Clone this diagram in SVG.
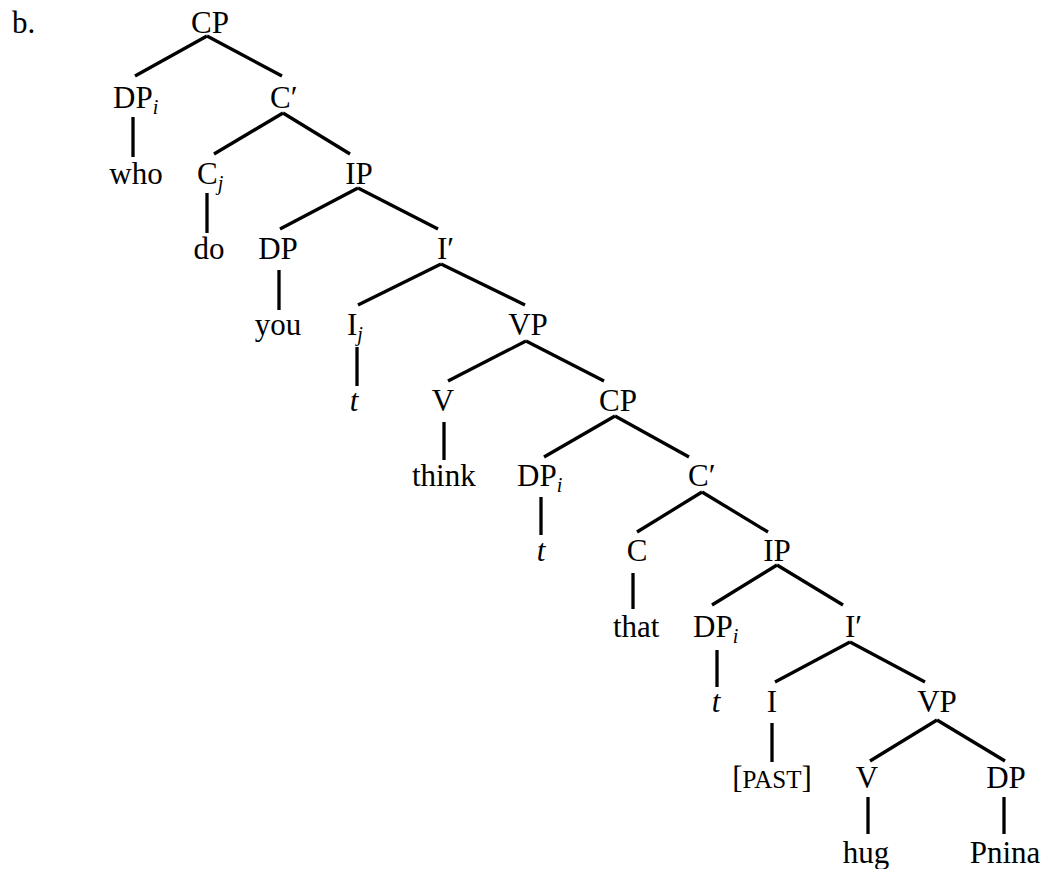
<svg xmlns="http://www.w3.org/2000/svg" width="1046" height="869" viewBox="0 0 1046 869">
<style>
text{font-family:"Liberation Serif","Times New Roman",serif;font-size:31px;fill:#000}
.m{text-anchor:middle}
.it{font-style:italic}
.sub{font-style:italic;font-size:20px}
.sc{font-size:25px}
#edges line{stroke:#000;stroke-width:3.3;stroke-linecap:butt}
</style>
<rect width="1046" height="869" fill="#fff"/>
<text x="12" y="33">b.</text>
<g id="edges">
<line x1="207" y1="36" x2="135" y2="76"/>
<line x1="207" y1="36" x2="282" y2="76"/>
<line x1="133" y1="117" x2="133" y2="157"/>
<line x1="283" y1="113" x2="214" y2="154"/>
<line x1="283" y1="113" x2="350" y2="154"/>
<line x1="207" y1="193" x2="207" y2="233"/>
<line x1="358" y1="188" x2="280" y2="229"/>
<line x1="358" y1="188" x2="438" y2="229"/>
<line x1="279" y1="270" x2="279" y2="310"/>
<line x1="441" y1="264" x2="358" y2="305"/>
<line x1="441" y1="264" x2="525" y2="305"/>
<line x1="357" y1="347" x2="357" y2="386"/>
<line x1="526" y1="341" x2="448" y2="381"/>
<line x1="526" y1="341" x2="604" y2="381"/>
<line x1="444" y1="422" x2="444" y2="460"/>
<line x1="615" y1="416" x2="544" y2="457"/>
<line x1="615" y1="416" x2="689" y2="457"/>
<line x1="541" y1="497" x2="541" y2="535"/>
<line x1="702" y1="492" x2="637" y2="532"/>
<line x1="702" y1="492" x2="768" y2="532"/>
<line x1="633" y1="573" x2="633" y2="609"/>
<line x1="777" y1="565" x2="712" y2="605"/>
<line x1="777" y1="565" x2="843" y2="605"/>
<line x1="717" y1="650" x2="717" y2="687"/>
<line x1="850" y1="642" x2="775" y2="682"/>
<line x1="850" y1="642" x2="925" y2="682"/>
<line x1="772" y1="723" x2="772" y2="762"/>
<line x1="937" y1="720" x2="870" y2="761"/>
<line x1="937" y1="720" x2="1005" y2="761"/>
<line x1="868" y1="797" x2="868" y2="834"/>
<line x1="1004" y1="797" x2="1004" y2="834"/>
</g>
<g id="n-cp1"><text class="m" x="210" y="33">CP</text></g>
<g id="n-dpi1"><text x="113" y="108">DP<tspan class="sub" dy="6">i</tspan></text></g>
<g id="n-cbar1"><text x="270" y="108">C′</text></g>
<g id="n-who"><text class="m" x="136" y="184">who</text></g>
<g id="n-cj"><text x="197" y="184">C<tspan class="sub" dy="6">j</tspan></text></g>
<g id="n-ip1"><text class="m" x="359" y="184">IP</text></g>
<g id="n-do"><text class="m" x="209" y="259">do</text></g>
<g id="n-dp1"><text class="m" x="278" y="259">DP</text></g>
<g id="n-ibar1"><text x="437" y="259">I′</text></g>
<g id="n-you"><text class="m" x="278" y="335">you</text></g>
<g id="n-ij"><text x="347" y="335">I<tspan class="sub" dy="6">j</tspan></text></g>
<g id="n-vp1"><text class="m" x="528" y="335">VP</text></g>
<g id="n-t1"><text class="m it" x="354" y="411">t</text></g>
<g id="n-v1"><text class="m" x="443" y="411">V</text></g>
<g id="n-cp2"><text class="m" x="618" y="411">CP</text></g>
<g id="n-think"><text x="412" y="486">think</text></g>
<g id="n-dpi2"><text x="517" y="486">DP<tspan class="sub" dy="6">i</tspan></text></g>
<g id="n-cbar2"><text x="688" y="486">C′</text></g>
<g id="n-t2"><text class="m it" x="541" y="561">t</text></g>
<g id="n-c"><text class="m" x="637" y="561">C</text></g>
<g id="n-ip2"><text class="m" x="777" y="561">IP</text></g>
<g id="n-that"><text x="613" y="637">that</text></g>
<g id="n-dpi3"><text x="693" y="637">DP<tspan class="sub" dy="6">i</tspan></text></g>
<g id="n-ibar2"><text x="845" y="637">I′</text></g>
<g id="n-t3"><text class="m it" x="716" y="712">t</text></g>
<g id="n-i"><text class="m" x="772" y="712">I</text></g>
<g id="n-vp2"><text class="m" x="937" y="712">VP</text></g>
<g id="n-past"><text class="m" x="772" y="788">[<tspan class="sc">PAST</tspan>]</text></g>
<g id="n-v2"><text class="m" x="867" y="788">V</text></g>
<g id="n-dp2"><text class="m" x="1006" y="788">DP</text></g>
<g id="n-hug"><text class="m" x="866" y="863">hug</text></g>
<g id="n-pnina"><text class="m" x="1005" y="863">Pnina</text></g>
</svg>
